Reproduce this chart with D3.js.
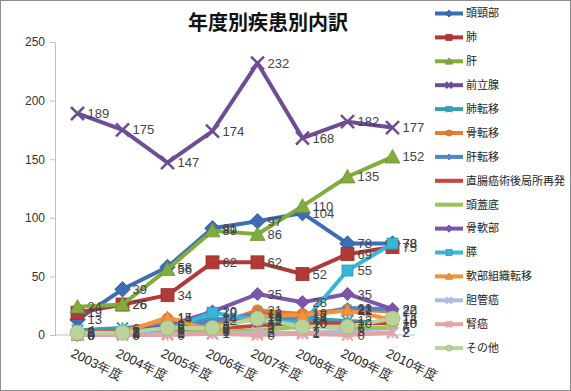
<!DOCTYPE html>
<html><head><meta charset="utf-8">
<script src="https://cdn.jsdelivr.net/npm/d3@7"></script>
<style>
body{margin:0;background:#fff;}
svg{display:block;font-family:"Noto Sans CJK JP","Noto Sans",sans-serif;}
</style></head>
<body><svg id="c" width="571" height="391"></svg>
<script>
const years = ["2003年度","2004年度","2005年度","2006年度","2007年度","2008年度","2009年度","2010年度"];
const seriesNames = ["頭頸部","肺","肝","前立腺","肺転移","骨転移","肝転移","直腸癌術後局所再発","頭蓋底","骨軟部","膵","軟部組織転移","胆管癌","腎癌","その他"];
const v頭頸部 = [13,39,58,91,97,104,78,78];
const v肺 = [19,26,34,62,62,52,69,75];
const v肝 = [24,26,56,89,86,110,135,152];
const v前立腺 = [189,175,147,174,232,168,182,177];
const v肺転移 = [4,6,9,14,12,14,12,10];
const v骨転移 = [2,3,14,8,21,18,22,20];
const v肝転移 = [3,2,6,12,18,15,23,22];
const v直腸 = [2,3,4,5,8,10,10,10];
const v頭蓋底 = [0,1,2,3,4,7,6,6];
const v骨軟部 = [0,2,8,20,35,28,35,22];
const v膵 = [0,2,5,19,13,10,55,78];
const v軟部 = [0,2,15,4,16,17,21,13];
const v胆管癌 = [0,0,1,1,2,2,3,2];
const v腎癌 = [0,0,0,1,0,1,0,2];
const vその他 = [2,2,6,6,14,7,7,14];
const yTicks = [0,50,100,150,200,250];
const title = "年度別疾患別内訳";

const seriesValues = [v頭頸部,v肺,v肝,v前立腺,v肺転移,v骨転移,v肝転移,v直腸,v頭蓋底,v骨軟部,v膵,v軟部,v胆管癌,v腎癌,vその他];
const colors = ["#3D6DB5","#B23A36","#83AC3F","#6E4D95","#3A9DB5","#E67E2C","#4C87CC","#C8423E","#9DC45A","#7C56AC","#36B7D9","#F7923A","#A9BEE2","#E2A5A3","#BBD39A"];
const markers = ["diamond","square","triangle","x","star","circle","plus","dash","dash","diamond","square","triangle","x","star","circle"];

const svg = d3.select("#c");
svg.append("rect").attr("x",0.5).attr("y",0.5).attr("width",570).attr("height",390)
  .attr("fill","#fff").attr("stroke","#8c8c8c").attr("stroke-width",1);

const x = d3.scalePoint().domain(years).range([55,415]).padding(0.5);
const y = d3.scaleLinear().domain([0,250]).range([335,42]);

const yAxis = svg.append("g").attr("transform","translate(55,0)")
  .call(d3.axisLeft(y).tickValues(yTicks).tickSize(5).tickPadding(5));
yAxis.select(".domain").attr("stroke","#c0c0c0");
yAxis.selectAll(".tick line").attr("stroke","#c0c0c0");
yAxis.selectAll("text").attr("font-size",12).attr("fill","#333").attr("font-family","Liberation Sans, Arial, sans-serif");

const xAxis = svg.append("g").attr("transform","translate(0,335)")
  .call(d3.axisBottom(x).tickSize(0).tickPadding(0));
xAxis.select(".domain").attr("stroke","#c0c0c0").attr("d","M55,0H415");
xAxis.selectAll("text")
  .attr("font-size",13).attr("fill","#222")
  .attr("text-anchor","start")
  .attr("transform","translate(-4,13) rotate(26)")
  .attr("dy","0.7em");

svg.append("text").attr("x",268).attr("y",30).attr("text-anchor","middle")
  .attr("font-size",20).attr("font-weight","bold").attr("fill","#111").text(title);

function drawMarker(g, type, cx, cy, s, color){
  const dark = d3.color(color).darker(0.5);
  const h = s/2;
  if(type==="diamond"){
    g.append("path").attr("d",`M${cx},${cy-h*1.2}L${cx+h*1.2},${cy}L${cx},${cy+h*1.2}L${cx-h*1.2},${cy}Z`).attr("fill",color).attr("stroke",dark).attr("stroke-width",0.8);
  } else if(type==="square"){
    g.append("rect").attr("x",cx-h).attr("y",cy-h).attr("width",s).attr("height",s).attr("fill",color).attr("stroke",dark).attr("stroke-width",0.8);
  } else if(type==="triangle"){
    g.append("path").attr("d",`M${cx},${cy-h*1.15}L${cx+h*1.15},${cy+h*0.95}L${cx-h*1.15},${cy+h*0.95}Z`).attr("fill",color).attr("stroke",dark).attr("stroke-width",0.8);
  } else if(type==="x"){
    g.append("path").attr("d",`M${cx-h},${cy-h}L${cx+h},${cy+h}M${cx-h},${cy+h}L${cx+h},${cy-h}`).attr("stroke",color).attr("stroke-width",2.5).attr("fill","none");
  } else if(type==="star"){
    g.append("path").attr("d",`M${cx-h},${cy-h}L${cx+h},${cy+h}M${cx-h},${cy+h}L${cx+h},${cy-h}M${cx},${cy-h}L${cx},${cy+h}`).attr("stroke",color).attr("stroke-width",2).attr("fill","none");
  } else if(type==="circle"){
    g.append("circle").attr("cx",cx).attr("cy",cy).attr("r",h).attr("fill",color).attr("stroke",dark).attr("stroke-width",0.8);
  } else if(type==="plus"){
    g.append("path").attr("d",`M${cx-h},${cy}L${cx+h},${cy}M${cx},${cy-h}L${cx},${cy+h}`).attr("stroke",color).attr("stroke-width",2).attr("fill","none");
  } else if(type==="dash"){
    g.append("path").attr("d",`M${cx-h},${cy}L${cx+h},${cy}`).attr("stroke",color).attr("stroke-width",3).attr("fill","none");
  }
}

const line = d3.line().x((d,i)=>x(years[i])).y(d=>y(d));
const plot = svg.append("g");
seriesValues.forEach((vals,si)=>{
  const g = plot.append("g");
  g.append("path").datum(vals).attr("d",line).attr("fill","none")
    .attr("stroke",colors[si]).attr("stroke-width",4).attr("stroke-linejoin","round");
  const big = si===14 ? 15 : (si<4 ? 13 : 11);
  vals.forEach((v,i)=>drawMarker(g, markers[si], x(years[i]), y(v), big, colors[si]));
});
const lab = svg.append("g");
seriesValues.forEach((vals,si)=>{
  vals.forEach((v,i)=>{
    lab.append("text").attr("x",x(years[i])+10).attr("y",y(v)).attr("dy","0.35em")
      .attr("font-size",13).attr("fill","#444").attr("font-family","Liberation Sans, Arial, sans-serif").text(v);
  });
});

const leg = svg.append("g");
seriesNames.forEach((n,si)=>{
  const ly = 13.5 + si*23.9;
  leg.append("line").attr("x1",435).attr("x2",463).attr("y1",ly).attr("y2",ly)
    .attr("stroke",colors[si]).attr("stroke-width",4);
  drawMarker(leg, markers[si], 449, ly, 6, colors[si]);
  leg.append("text").attr("x",466).attr("y",ly).attr("dy","0.35em")
    .attr("font-size",11).attr("fill","#222").text(n);
});
</script></body></html>
